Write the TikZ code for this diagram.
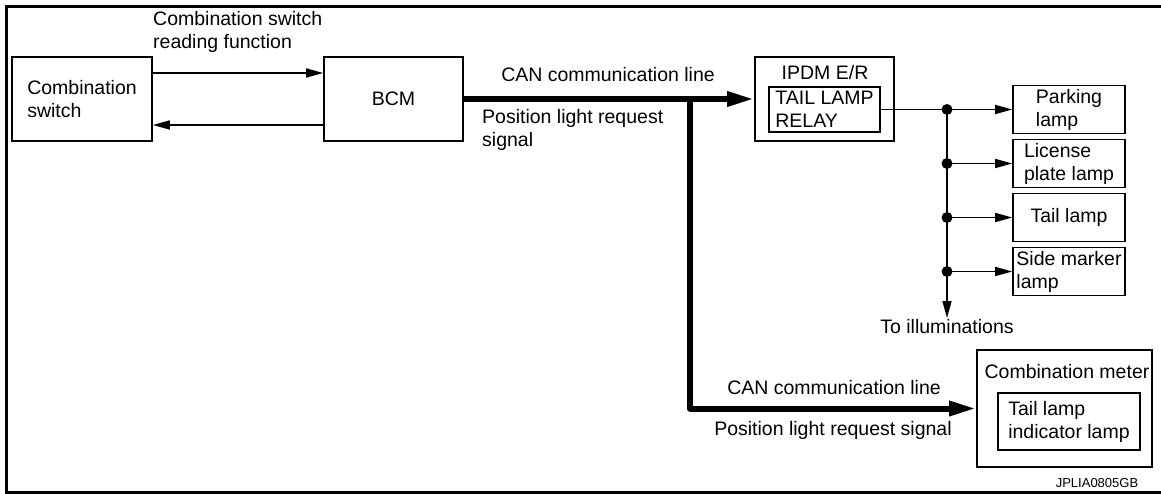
\documentclass[tikz,border=0pt]{standalone}
\usepackage{fontspec}
\setmainfont{Liberation Sans}
\usetikzlibrary{arrows.meta}
\tikzset{
  unit/.style={draw,line width=1.6pt,inner sep=0pt,align=left},
  lamp/.style={minimum width=112pt,minimum height=48pt},
  txt/.style={inner sep=0pt,align=left},
  sig/.style={line width=1.6pt,-{Triangle[length=17pt,width=9pt]}},
  can/.style={line width=6pt,-{Triangle[length=27pt,width=14pt]}},
  dot/.style={circle,fill,inner sep=0pt,minimum size=11pt},
}
\begin{document}
\begin{tikzpicture}[x=1pt,y=-1pt,font=\fontsize{19.5}{23}\selectfont]
    \useasboundingbox (0,0) rectangle (1161,494);
    \draw[line width=3pt] (1161,6.5) -- (6.5,6.5) -- (6.5,492.5) -- (1161,492.5);

    \node[unit,minimum width=140pt,minimum height=84pt] (combsw) at (82,99) {Combination\\switch};
    \node[unit,minimum width=139pt,minimum height=84pt] (bcm) at (393.5,99) {BCM};
    \node[unit,minimum width=139pt,minimum height=84pt] (ipdm) at (824.5,99) {};
    \node[txt] (ipdmlbl) at (825,73) {IPDM E/R};
    \node[unit,minimum width=111pt,minimum height=45pt] (relay) at (824.5,109.5) {TAIL LAMP\\RELAY};

    \node[unit,lamp] (parking) at (1069,109.5) {Parking\\lamp};
    \node[unit,lamp] (license) at (1069,163.5) {License\\plate lamp};
    \node[unit,lamp] (tail) at (1069,217.5) {Tail lamp};
    \node[unit,lamp] (sidemk) at (1069,271.5) {Side marker\\lamp};

    \node[unit,minimum width=175pt,minimum height=117pt] (meter) at (1064.5,408.5) {};
    \node[txt] (meterlbl) at (1067,372) {Combination meter};
    \node[unit,minimum width=142pt,minimum height=57pt] (indic) at (1069,421.5) {Tail lamp\\indicator lamp};

    \node[txt,anchor=west] (readlbl) at (153,31.5) {Combination switch\\reading function};
    \draw[sig] ([yshift=26pt]combsw.east) -- ([yshift=26pt]bcm.west);
    \draw[sig] ([yshift=-26pt]bcm.west) -- ([yshift=-26pt]combsw.east);

    \coordinate (split) at (690,99);
    \draw[can] (bcm.east) -- (ipdm.west);
    \draw[can,line join=round] (split) -- (split |- meter.west) -- (meter.west);
    \node[txt] (can1) at (608,75) {CAN communication line};
    \node[txt,anchor=west] (pos1) at (482,130) {Position light request\\signal};
    \node[txt] (can2) at (834,388) {CAN communication line};
    \node[txt] (pos2) at (833,430) {Position light request signal};

    \coordinate (j1) at (947,109.5);
    \coordinate (j2) at (947,163.5);
    \coordinate (j3) at (947,217.5);
    \coordinate (j4) at (947,271.5);
    \coordinate (illum) at (947,318);
    \draw[line width=1.6pt] (relay.east) -- (j1);
    \draw[sig] (j1) -- (illum);
    \draw[sig] (j1) -- (parking.west);
    \draw[sig] (j2) -- (license.west);
    \draw[sig] (j3) -- (tail.west);
    \draw[sig] (j4) -- (sidemk.west);
    \foreach \j in {j1,j2,j3,j4}
        \node[dot] at (\j) {};
    \node[txt] (illumlbl) at (947,327) {To illuminations};

    \node[txt,font=\fontsize{13}{15}\selectfont] (code) at (1097,483) {JPLIA0805GB};
\end{tikzpicture}
\end{document}
